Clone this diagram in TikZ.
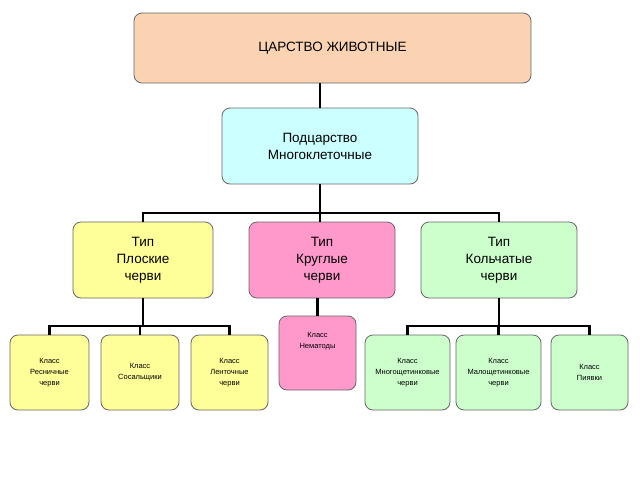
\documentclass[tikz,border=0pt]{standalone}
\usepackage{fontspec}
\setmainfont{Liberation Sans}
\definecolor{corange}{HTML}{FAD3B3}
\definecolor{ccyan}{HTML}{CCFFFF}
\definecolor{cyel}{HTML}{FFFF99}
\definecolor{cpink}{HTML}{FF99CC}
\definecolor{cgreen}{HTML}{CCFFCC}
\begin{document}
\begin{tikzpicture}[x=1pt,y=-1pt,
  bx/.style={draw=black!60,line width=0.8pt,rounded corners=8pt,align=center,inner sep=0pt},
  big/.style={font=\fontsize{13.5}{17}\selectfont},
  small/.style={font=\fontsize{7.5}{11}\selectfont},
  ln/.style={line width=2.2pt}]
\useasboundingbox (0,0) rectangle (640,480);
\node[bx,big,fill=corange,minimum width=397pt,minimum height=70pt] (top) at (332.5,48) {ЦАРСТВО ЖИВОТНЫЕ};
\node[bx,big,fill=ccyan,minimum width=196pt,minimum height=76pt] (sub) at (320,146) {Подцарство\\Многоклеточные};
\node[bx,big,fill=cyel,minimum width=140pt,minimum height=76pt] (t1) at (143,260) {Тип\\Плоские\\черви};
\node[bx,big,fill=cpink,minimum width=146pt,minimum height=76pt] (t2) at (322,260) {Тип\\Круглые\\черви};
\node[bx,big,fill=cgreen,minimum width=156pt,minimum height=76pt] (t3) at (499,260) {Тип\\Кольчатые\\черви};
\node[bx,small,fill=cpink,minimum width=77pt,minimum height=74pt] (n) at (317.5,353) {Класс\\Нематоды\\[14pt]};
\node[bx,small,fill=cyel,minimum width=79pt,minimum height=75pt] (y1) at (49.5,372.5) {Класс\\Ресничные\\черви};
\node[bx,small,fill=cyel,minimum width=78pt,minimum height=75pt] (y2) at (140,372.5) {Класс\\Сосальщики};
\node[bx,small,fill=cyel,minimum width=77pt,minimum height=75pt] (y3) at (229.5,372.5) {Класс\\Ленточные\\черви};
\node[bx,small,fill=cgreen,minimum width=85pt,minimum height=75pt] (g1) at (407.5,372.5) {Класс\\Многощетинковые\\черви};
\node[bx,small,fill=cgreen,minimum width=85pt,minimum height=75pt] (g2) at (498.5,372.5) {Класс\\Малощетинковые\\черви};
\node[bx,small,fill=cgreen,minimum width=77pt,minimum height=75pt] (g3) at (589.5,372.5) {Класс\\Пиявки};
\draw[ln] (top.south -| sub.north) -- (sub.north);
\draw[ln] (sub.south) -- (320,213);
\draw[ln] (t1.north) |- (320,213) -| (t3.north);
\draw[ln] (320,213) -- (t2.north -| 320,0);
\draw[ln] (t2.south -| n.north) -- (n.north);
\draw[ln] (t1.south) -- (143,326);
\draw[ln] (y1.north) |- (143,326) -| (y3.north);
\draw[ln] (143,326) -| (y2.north);
\draw[ln] (t3.south) -- (499,326);
\draw[ln] (g1.north) |- (499,326) -| (g3.north);
\draw[ln] (499,326) -| (g2.north);
\end{tikzpicture}
\end{document}
